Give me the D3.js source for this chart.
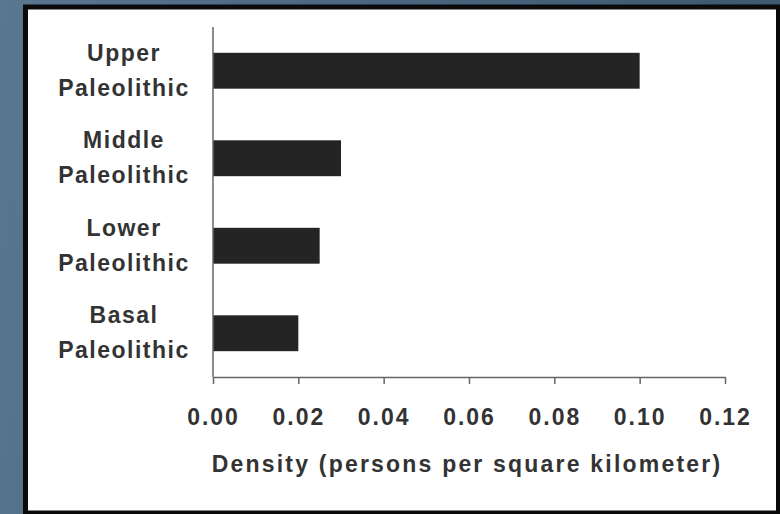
<!DOCTYPE html>
<html>
<head>
<meta charset="utf-8">
<script src="https://cdn.jsdelivr.net/npm/d3@7"></script>
<style>
  html, body { margin: 0; padding: 0; }
  body { width: 780px; height: 514px; overflow: hidden;
         background: linear-gradient(100deg, #5a7790 0%, #49667f 45%, #3a566e 100%); }
  svg text { font-family: "Liberation Sans", Arial, sans-serif; font-weight: bold; fill: #333; }
</style>
</head>
<body>
<div id="chart"></div>
<script>
var periods = ['Upper', 'Middle', 'Lower', 'Basal'];
var densities = [0.100, 0.030, 0.025, 0.020];
var ticks = [0.00, 0.02, 0.04, 0.06, 0.08, 0.10, 0.12];
var axisTitle = 'Density (persons per square kilometer)';

var width = 780, height = 514;
var plotLeft = 213, plotRight = 725, plotTop = 27, plotBottom = 377;

var svg = d3.select('#chart').append('svg')
    .attr('width', width)
    .attr('height', height);

// white panel with black frame
svg.append('rect')
    .attr('x', 25.5).attr('y', 7)
    .attr('width', 753).attr('height', 506)
    .attr('fill', '#fff')
    .attr('stroke', '#0a0a0a')
    .attr('stroke-width', 5);

var x = d3.scaleLinear()
    .domain([0, 0.12])
    .range([plotLeft, plotRight]);

var y = d3.scaleBand()
    .domain(periods)
    .range([plotTop, plotBottom])
    .paddingInner(0.59)
    .paddingOuter(0.295);

svg.append('g')
    .selectAll('rect')
    .data(periods)
    .enter()
    .append('rect')
    .attr('x', x(0))
    .attr('y', function(d) { return y(d); })
    .attr('width', function(d, i) { return x(densities[i]) - x(0); })
    .attr('height', y.bandwidth())
    .attr('fill', '#242424');

// y axis line (no ticks)
svg.append('line')
    .attr('x1', plotLeft).attr('x2', plotLeft)
    .attr('y1', plotTop).attr('y2', plotBottom)
    .attr('stroke', '#666').attr('stroke-width', 1.5);

var xAxis = svg.append('g')
    .attr('transform', 'translate(0,' + plotBottom + ')')
    .call(d3.axisBottom(x)
        .tickValues(ticks)
        .tickFormat(d3.format('.2f'))
        .tickSize(7)
        .tickSizeOuter(0)
        .tickPadding(25));

xAxis.select('.domain').attr('stroke', '#666').attr('stroke-width', 1.5);
xAxis.selectAll('.tick line').attr('stroke', '#666').attr('stroke-width', 1.5);
xAxis.selectAll('.tick text')
    .attr('dy', '0.71em')
    .style('font-size', '23px')
    .style('letter-spacing', '2px')
    .style('font-family', '"Liberation Sans", Arial, sans-serif')
    .style('font-weight', 'bold')
    .style('fill', '#333');

// category labels, two lines each
var labels = svg.append('g')
    .selectAll('text')
    .data(periods)
    .enter()
    .append('text')
    .attr('text-anchor', 'middle')
    .style('font-size', '23px')
    .style('letter-spacing', '1.5px');

labels.append('tspan')
    .attr('x', 124)
    .attr('y', function(d) { return y(d) + y.bandwidth() / 2 - 10; })
    .text(function(d) { return d; });

labels.append('tspan')
    .attr('x', 124)
    .attr('y', function(d) { return y(d) + y.bandwidth() / 2 + 25; })
    .text('Paleolithic');

svg.append('text')
    .attr('x', (plotLeft + plotRight) / 2 - 2)
    .attr('y', 472)
    .attr('text-anchor', 'middle')
    .style('font-size', '23px')
    .style('letter-spacing', '2.2px')
    .text(axisTitle);
</script>
</body>
</html>
